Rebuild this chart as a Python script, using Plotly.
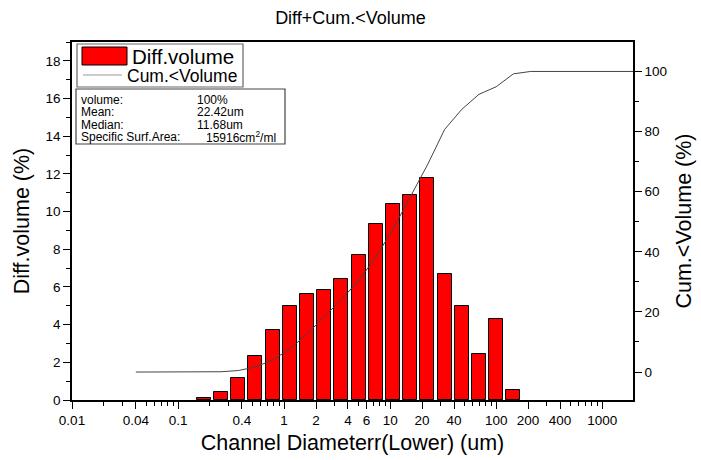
import plotly.graph_objects as go

# ---------------- data ----------------
channel_lower = [0.1507, 0.2188, 0.3178, 0.4616, 0.6705, 0.9739, 1.415, 2.055,
                 2.984, 4.334, 6.295, 9.143, 13.28, 19.29, 28.02, 40.69, 59.10,
                 85.85, 124.7]
diff_volume = [0.10, 0.43, 1.16, 2.33, 3.73, 5.00, 5.61, 5.82, 6.42, 7.69, 9.36,
               10.42, 10.90, 11.79, 6.67, 5.01, 2.45, 4.28, 0.52]

cum_diameter = [0.04, 0.1754, 0.2547, 0.370, 0.5373, 0.7805, 1.134, 1.647, 2.392,
                3.474, 5.046, 7.328, 10.65, 15.46, 22.46, 32.62, 47.38, 68.82,
                99.93, 145.2, 210.8, 1950]
cum_volume = [0, 0, 0.1, 0.5, 1.7, 4.0, 7.7, 12.7, 18.3, 24.1, 30.5, 38.2, 47.6,
              58.0, 68.9, 80.7, 87.4, 92.4, 94.9, 99.2, 100, 100]

x_tick_vals = [0.01, 0.04, 0.1, 0.4, 1, 2, 4, 6, 10, 20, 40, 100, 200, 400, 1000]
x_tick_text = ["0.01", "0.04", "0.1", "0.4", "1", "2", "4", "6", "10", "20", "40",
               "100", "200", "400", "1000"]

stats_labels = ["volume:", "Mean:", "Median:", "Specific Surf.Area:"]
stats_values = ["100%", "22.42um", "11.68um", "15916cm<sup>2</sup>/ml"]

# ---------------- style ----------------
FONT = "Liberation Sans, Arial, sans-serif"
BAR_RATIO = 1.355          # drawn bar spans lower .. lower*BAR_RATIO (leaves gap)
W, H = 701, 460
ML, MR, MT, MB = 72, 68, 42, 60
PW, PH = W - ML - MR, H - MT - MB
TICK_SIZE = 13.5
AXT_SIZE = 21.5
STAT_SIZE = 12


def px(x):
    return (x - ML) / PW


def py(y):
    return 1 - (y - MT) / PH


minor_vals = []
for dec in [0.01, 0.1, 1, 10, 100, 1000]:
    for m in range(1, 10):
        v = round(m * dec, 6)
        if v not in x_tick_vals and v < 2000:
            minor_vals.append(v)

fig = go.Figure()
fig.add_trace(go.Bar(
    x=channel_lower, y=diff_volume,
    width=[c * (BAR_RATIO - 1) for c in channel_lower], offset=0,
    marker=dict(color="#ff0000", line=dict(color="#000000", width=1)),
    name="Diff.volume", showlegend=False, yaxis="y"))
fig.add_trace(go.Scatter(
    x=cum_diameter, y=cum_volume, mode="lines",
    line=dict(color="#444444", width=1),
    name="Cum.<Volume", showlegend=False, yaxis="y2"))

axis_common = dict(showgrid=False, zeroline=False, showline=True,
                   linecolor="black", linewidth=1.5, ticks="outside",
                   tickcolor="black", tickwidth=1.3, ticklen=7,
                   automargin=False,
                   tickfont=dict(family=FONT, size=TICK_SIZE, color="black"))

fig.update_layout(
    width=W, height=H, autosize=False,
    margin=dict(l=ML, r=MR, t=MT, b=MB),
    paper_bgcolor="white", plot_bgcolor="white",
    font=dict(family=FONT, color="black"),
    title=dict(text="Diff+Cum.<Volume", x=0.5, xanchor="center",
               y=1 - 18 / H, yanchor="middle",
               font=dict(family=FONT, size=18, color="black")),
    bargap=0,
    xaxis=dict(type="log", range=[-2, 3.29], tickvals=x_tick_vals,
               ticktext=x_tick_text, mirror=True,
               minor=dict(tickvals=minor_vals, ticks="outside", ticklen=4,
                          tickcolor="black", tickwidth=1.1),
               title=dict(text="Channel Diameterr(Lower) (um)", standoff=8,
                          font=dict(family=FONT, size=AXT_SIZE, color="black")),
               **axis_common),
    yaxis=dict(range=[0, 19], dtick=2, tick0=0,
               minor=dict(dtick=1, ticks="outside", ticklen=4,
                          tickcolor="black", tickwidth=1.1),
               title=dict(text="Diff.volume (%)", standoff=10,
                          font=dict(family=FONT, size=AXT_SIZE, color="black")),
               **axis_common),
    yaxis2=dict(range=[-9.3, 109.8], dtick=20, tick0=0, overlaying="y",
                side="right",
                minor=dict(dtick=10, ticks="outside", ticklen=4,
                           tickcolor="black", tickwidth=1.1),
                title=dict(text="Cum.<Volume (%)", standoff=10,
                           font=dict(family=FONT, size=AXT_SIZE, color="black")),
                **axis_common),
)

shapes = []
annotations = []
# legend box
shapes.append(dict(type="rect", xref="paper", yref="paper",
                   x0=px(77), x1=px(243), y0=py(87), y1=py(44),
                   line=dict(color="#666666", width=1.2), fillcolor="white"))
shapes.append(dict(type="rect", xref="paper", yref="paper",
                   x0=px(82), x1=px(127), y0=py(65), y1=py(47),
                   line=dict(color="#000000", width=1), fillcolor="#ff0000"))
shapes.append(dict(type="line", xref="paper", yref="paper",
                   x0=px(83), x1=px(122), y0=py(75), y1=py(75),
                   line=dict(color="#999999", width=1.2)))
annotations.append(dict(xref="paper", yref="paper", x=px(131), y=py(56),
                        xanchor="left", yanchor="middle", showarrow=False,
                        text="Diff.volume", borderpad=0,
                        font=dict(family=FONT, size=20.5, color="black")))
annotations.append(dict(xref="paper", yref="paper", x=px(126), y=py(76),
                        xanchor="left", yanchor="middle", showarrow=False,
                        text="Cum.<Volume", borderpad=0,
                        font=dict(family=FONT, size=17.5, color="black")))
# statistics box
shapes.append(dict(type="rect", xref="paper", yref="paper",
                   x0=px(76), x1=px(285), y0=py(144), y1=py(89),
                   line=dict(color="#444444", width=1.2), fillcolor="white"))
row_y = [99.5, 112, 124.5, 137]
val_x = [196, 196, 196, 205]
for lab, val, ry, vx in zip(stats_labels, stats_values, row_y, val_x):
    annotations.append(dict(xref="paper", yref="paper", x=px(80), y=py(ry),
                            xanchor="left", yanchor="middle", showarrow=False,
                            text=lab, borderpad=0,
                            font=dict(family=FONT, size=STAT_SIZE, color="black")))
    annotations.append(dict(xref="paper", yref="paper", x=px(vx), y=py(ry),
                            xanchor="left", yanchor="middle", showarrow=False,
                            text=val, borderpad=0,
                            font=dict(family=FONT, size=STAT_SIZE, color="black")))

fig.update_layout(shapes=shapes, annotations=annotations)
fig.write_html("out.html",
               config={"displayModeBar": False},
               post_script="document.body.style.margin='0';"
                           "document.body.style.padding='0';")
